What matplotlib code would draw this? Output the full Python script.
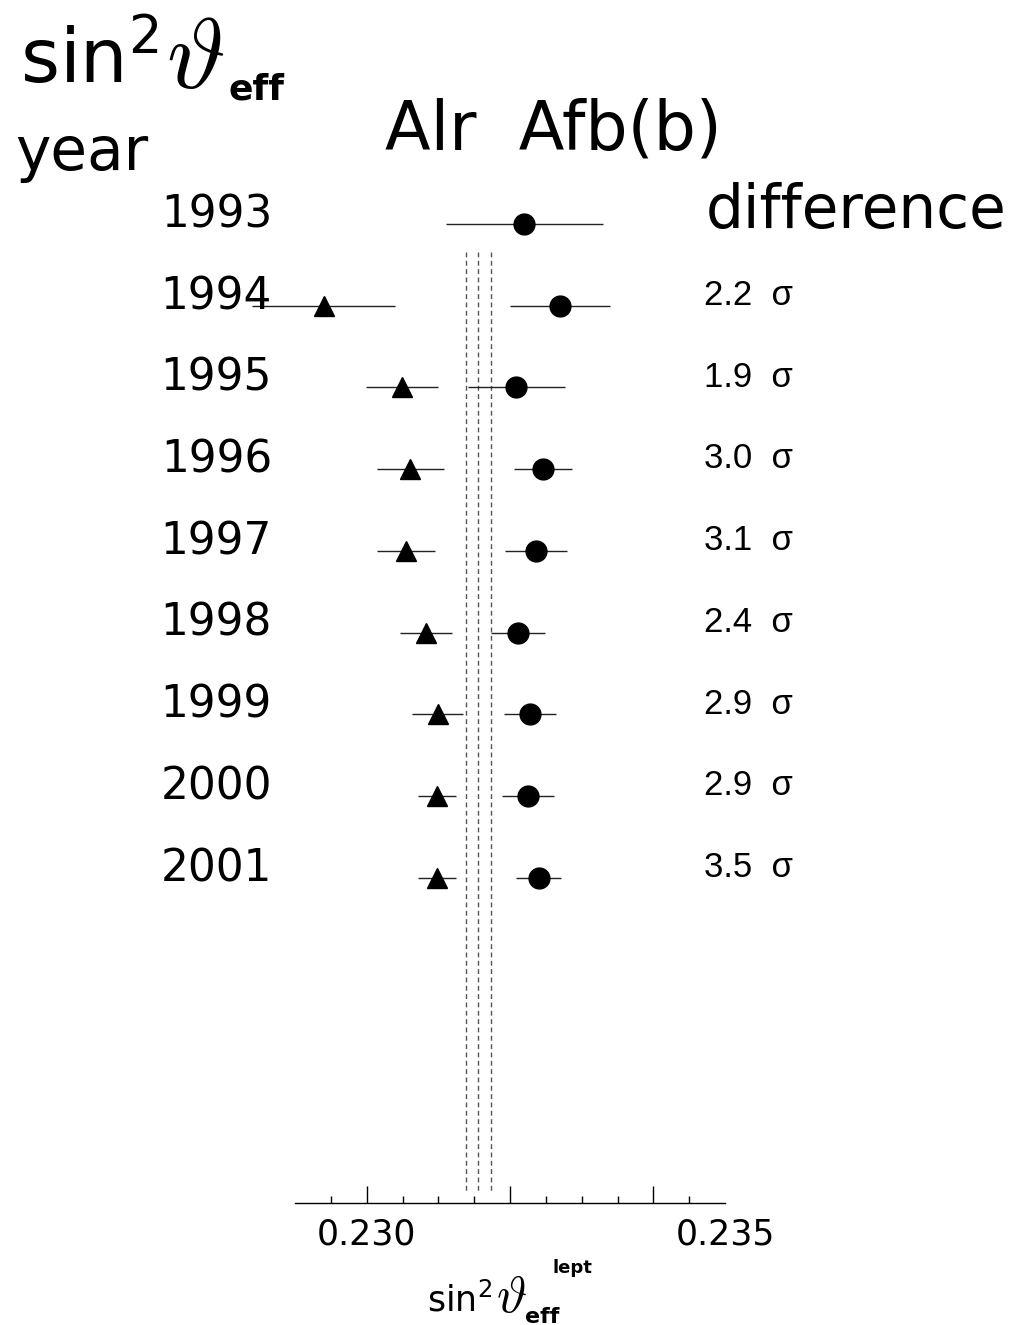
import matplotlib
matplotlib.use("Agg")
import matplotlib.pyplot as plt
import matplotlib.transforms as mtransforms
import numpy as np

# data
years = ["1993", "1994", "1995", "1996", "1997", "1998", "1999", "2000", "2001"]
alr_val = [np.nan, 0.22940, 0.23049, 0.23061, 0.23055, 0.23083, 0.23099, 0.23098, 0.23098]
alr_err = [np.nan, 0.00100, 0.00050, 0.00047, 0.00041, 0.00036, 0.00036, 0.00026, 0.00026]
afb_val = [0.23220, 0.23270, 0.23209, 0.23246, 0.23236, 0.23211, 0.23228, 0.23225, 0.23240]
afb_err = [0.00110, 0.00070, 0.00068, 0.00041, 0.00043, 0.00038, 0.00036, 0.00036, 0.00031]
differences = ["", "2.2", "1.9", "3.0", "3.1", "2.4", "2.9", "2.9", "3.5"]
sm_band = [0.23139, 0.23156, 0.23173]
axis_labels = [0.230, 0.235]
major_ticks = [0.230, 0.232, 0.234]

plt.rcParams["mathtext.fontset"] = "custom"
plt.rcParams["mathtext.rm"] = "DejaVu Sans"
plt.rcParams["mathtext.bf"] = "DejaVu Sans:bold"

FONT = "DejaVu Sans"
W, H = 1015, 1325
fig = plt.figure(figsize=(W / 100, H / 100), dpi=100)
ax = fig.add_axes([295 / W, (H - 1203) / H, 430 / W, 1203 / H])

rows = np.arange(len(years))
ax.set_xlim(0.229, 0.235)
ax.set_ylim(11.98, -2.742)

for x in sm_band:
    ax.plot([x, x], [0.34, 11.85], ls=(0, (3.5, 2.5)), color="#555555", lw=1.0)

for vals, errs, mk, ms in [(alr_val, alr_err, "^", 14), (afb_val, afb_err, "o", 15)]:
    eb = ax.errorbar(vals, rows, xerr=errs, fmt=mk, color="black", ms=ms,
                     ecolor="#222222", elinewidth=1.0, capsize=0)
    eb[0].set_clip_on(False)
    for c in eb[2]:
        c.set_clip_on(False)

for s in ["left", "right", "top"]:
    ax.spines[s].set_visible(False)
ax.spines["bottom"].set_linewidth(1.0)
ax.set_yticks([])
ax.set_xticks(major_ticks)
ax.set_xticklabels([])
ax.set_xticks(np.arange(0.2295, 0.2350, 0.0005), minor=True)
ax.tick_params(axis="x", which="major", direction="in", length=12, width=1.0)
ax.tick_params(axis="x", which="minor", direction="in", length=5, width=1.0)

lab_tr = mtransforms.blended_transform_factory(ax.transData, ax.transAxes)
for v in axis_labels:
    ax.text(v, -0.0349, f"{v:.3f}", transform=lab_tr, ha="center", va="baseline",
            fontsize=25, family=FONT)

row_tr = mtransforms.blended_transform_factory(fig.transFigure, ax.transData)
for i, (yr, d) in enumerate(zip(years, differences)):
    fig.text(272 / W, i + 0.04, yr, transform=row_tr, ha="right", va="baseline",
             fontsize=31.5, family=FONT)
    if d:
        fig.text(704 / W, i - 0.01, d + "  σ", transform=row_tr, ha="left",
                 va="baseline", fontsize=25, family="Liberation Sans")

fig.text(706 / W, 0.05, "difference", transform=row_tr, ha="left", va="baseline",
         fontsize=43, family=FONT)

fig.text(553 / W, 1 - 150 / H, "Alr  Afb(b)", ha="center", va="baseline",
         fontsize=48, family=FONT)

# top-left label: sin^2 theta_eff
fig.text(20 / W, 1 - 83 / H, r"sin$^{2}$", ha="left", va="baseline",
         fontsize=54, family=FONT)
fig.text(166 / W, 1 - 88 / H, r"$\vartheta$", ha="left", va="baseline",
         fontsize=72, math_fontfamily="cm")
fig.text(228 / W, 1 - 100 / H, "eff", ha="left", va="baseline",
         fontsize=26, family=FONT, fontweight="bold")
fig.text(15 / W, 1 - 170 / H, "year", ha="left", va="baseline",
         fontsize=43, family=FONT)

# axis title: sin^2 theta_eff^lept
fig.text(427 / W, 1 - 1311 / H, r"sin$^{2}$", ha="left", va="baseline",
         fontsize=25, family=FONT)
fig.text(496 / W, 1 - 1312 / H, r"$\vartheta$", ha="left", va="baseline",
         fontsize=37, math_fontfamily="cm")
fig.text(553 / W, 1 - 1273 / H, "lept", ha="left", va="baseline",
         fontsize=13, family=FONT, fontweight="bold")
fig.text(525 / W, 1 - 1323 / H, "eff", ha="left", va="baseline",
         fontsize=16, family=FONT, fontweight="bold")

fig.savefig("out.png", dpi=100)
